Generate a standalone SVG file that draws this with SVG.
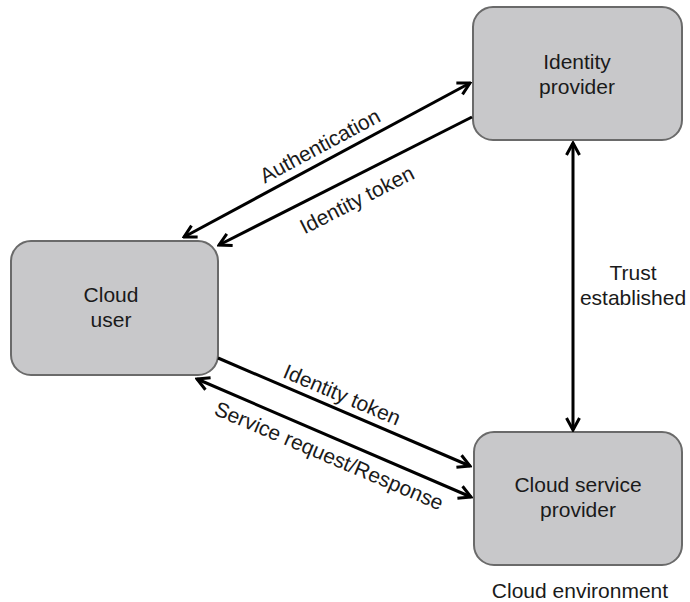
<svg xmlns="http://www.w3.org/2000/svg" width="690" height="602" viewBox="0 0 690 602">
  <style>
    .box { fill: #c8c8ca; stroke: #6a6a6a; stroke-width: 2; }
    .lbl { font-family: "Liberation Sans", Arial, Helvetica, sans-serif; font-size: 21px; fill: #1a1a1a; text-anchor: middle; }
    .conn { stroke: #000; stroke-width: 3; fill: none; }
  </style>
  <defs>
    <marker id="arr" viewBox="-14 -9 16 18" markerUnits="userSpaceOnUse" markerWidth="16" markerHeight="18" refX="0" refY="0" orient="auto-start-reverse">
      <path d="M-12,-6.5 L0,0 L-12,6.5" fill="none" stroke="#000" stroke-width="3" stroke-linejoin="miter"/>
    </marker>
  </defs>
  <rect width="690" height="602" fill="#fff"/>

  <g id="identity-provider">
    <rect class="box" x="473" y="7" width="209" height="133" rx="20" ry="20"/>
    <text class="lbl" x="577" y="69">Identity</text>
    <text class="lbl" x="577" y="94">provider</text>
  </g>

  <g id="cloud-user">
    <rect class="box" x="11" y="241" width="207" height="134" rx="20" ry="20"/>
    <text class="lbl" x="111" y="302">Cloud</text>
    <text class="lbl" x="111" y="327">user</text>
  </g>

  <g id="cloud-service-provider">
    <rect class="box" x="474" y="432" width="208" height="133" rx="20" ry="20"/>
    <text class="lbl" x="578" y="492">Cloud service</text>
    <text class="lbl" x="578" y="517">provider</text>
  </g>

  <g id="cloud-environment">
    <text class="lbl" x="580" y="598">Cloud environment</text>
  </g>

  <g id="connectors">
    <line class="conn" x1="184" y1="237" x2="470" y2="83" marker-start="url(#arr)" marker-end="url(#arr)"/>
    <line class="conn" x1="472" y1="117" x2="219" y2="245" marker-end="url(#arr)"/>
    <line class="conn" x1="218" y1="358" x2="470" y2="466" marker-end="url(#arr)"/>
    <line class="conn" x1="197" y1="379" x2="471" y2="497" marker-start="url(#arr)" marker-end="url(#arr)"/>
    <line class="conn" x1="573" y1="143" x2="573" y2="430" marker-start="url(#arr)" marker-end="url(#arr)"/>

    <text class="lbl" transform="translate(320,146) rotate(-28.3)" y="7">Authentication</text>
    <text class="lbl" transform="translate(357,200) rotate(-27)" y="7">Identity token</text>
    <text class="lbl" transform="translate(342,395) rotate(23)" y="7">Identity token</text>
    <text class="lbl" transform="translate(329,456) rotate(23)" y="7">Service request/Response</text>
    <text class="lbl" x="633" y="280">Trust</text>
    <text class="lbl" x="633" y="305">established</text>
  </g>
</svg>
